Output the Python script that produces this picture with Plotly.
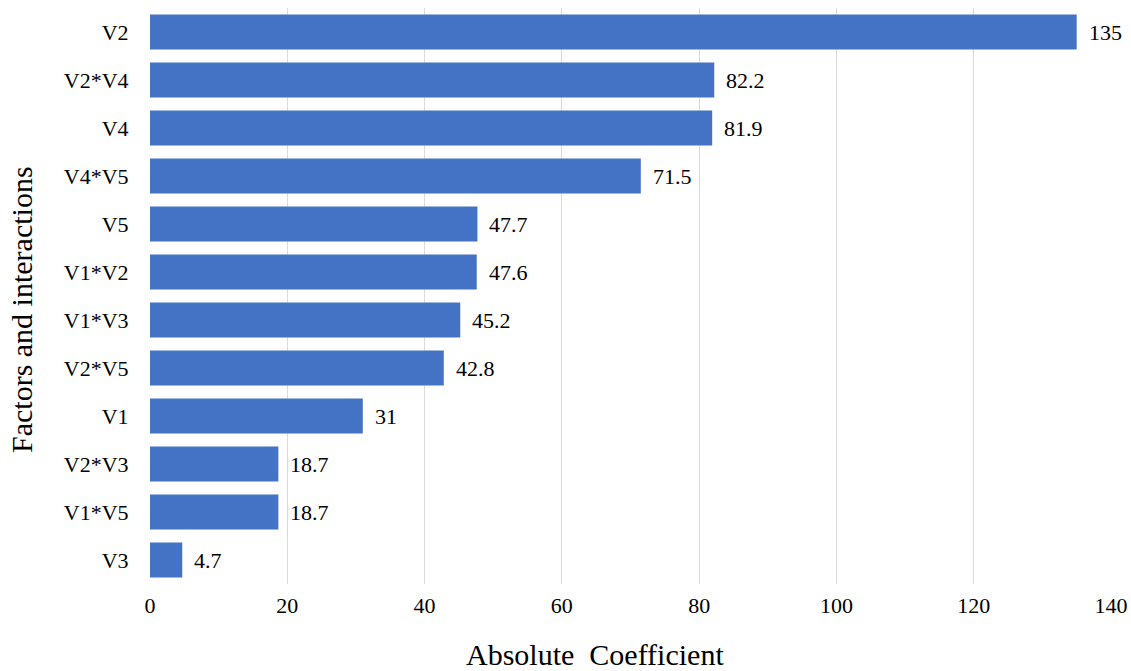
import plotly.graph_objects as go

categories = ["V2", "V2*V4", "V4", "V4*V5", "V5", "V1*V2", "V1*V3", "V2*V5", "V1", "V2*V3", "V1*V5", "V3"]
values = [135, 82.2, 81.9, 71.5, 47.7, 47.6, 45.2, 42.8, 31, 18.7, 18.7, 4.7]
labels = ["135", "82.2", "81.9", "71.5", "47.7", "47.6", "45.2", "42.8", "31", "18.7", "18.7", "4.7"]
x_title = "Absolute&nbsp;&nbsp;Coefficient"
y_title = "Factors and interactions"

FONT = "'Liberation Serif', 'Times New Roman', Times, serif"

fig = go.Figure()
fig.add_trace(go.Bar(
    x=values, y=categories, orientation="h",
    marker=dict(color="#4472C4", line=dict(width=0)),
    hoverinfo="x+y",
))
for c, v, t in zip(categories, values, labels):
    fig.add_annotation(x=v, y=c, text=t, showarrow=False, xanchor="left",
                       xshift=10, font=dict(family=FONT, size=22, color="#000"))

fig.add_annotation(text=x_title, xref="paper", yref="paper", x=0.463, y=-0.123,
                   xanchor="center", yanchor="middle", showarrow=False,
                   font=dict(family=FONT, size=30, color="#000"))
fig.add_annotation(text=y_title, xref="paper", yref="paper", x=-0.133, y=0.476,
                   xanchor="center", yanchor="middle", showarrow=False, textangle=-90,
                   font=dict(family=FONT, size=30, color="#000"))

fig.update_layout(
    width=1131, height=671,
    margin=dict(l=150, r=20, t=8, b=87),
    plot_bgcolor="white", paper_bgcolor="white",
    bargap=0.27,
    showlegend=False,
    font=dict(family=FONT, size=22, color="#000"),
    xaxis=dict(range=[0, 140], dtick=20, tick0=0, showgrid=True, gridcolor="#d9d9d9",
               gridwidth=1, zeroline=False, showline=False, automargin=False,
               ticks="outside", ticklen=2, tickcolor="rgba(0,0,0,0)",
               tickfont=dict(family=FONT, size=22, color="#000")),
    yaxis=dict(categoryorder="array", categoryarray=categories[::-1],
               showgrid=False, zeroline=False, showline=False, automargin=False,
               ticks="outside", ticklen=16, tickcolor="rgba(0,0,0,0)",
               tickfont=dict(family=FONT, size=22, color="#000")),
)
fig.write_html("out.html")
